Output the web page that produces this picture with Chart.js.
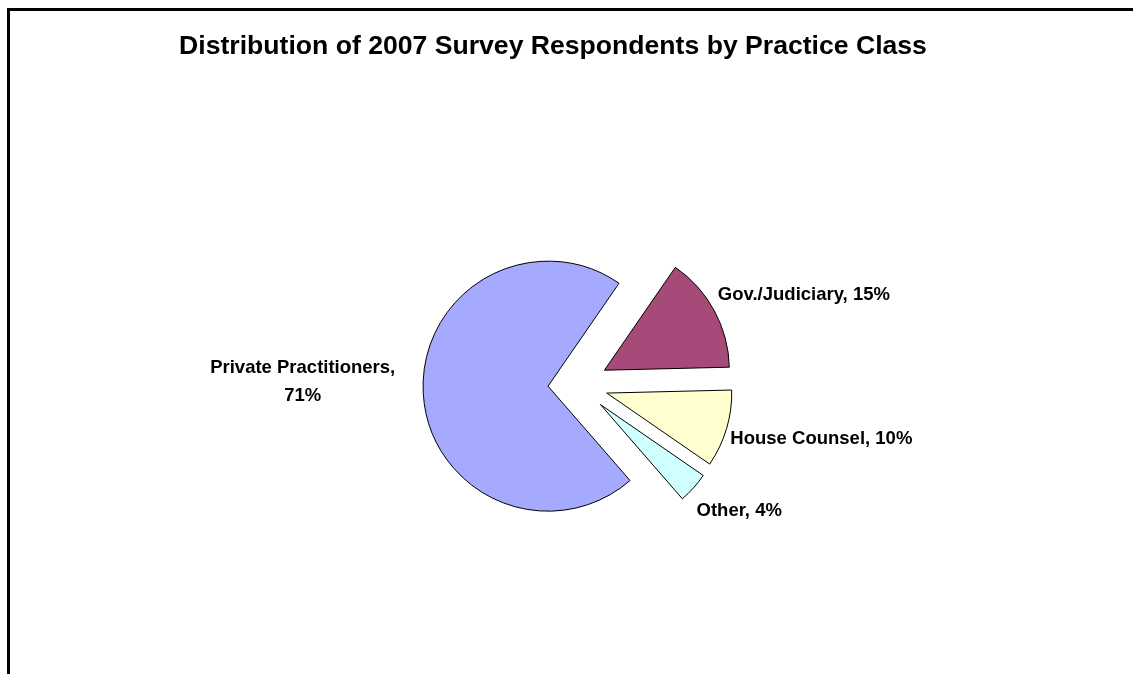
<!DOCTYPE html>
<html>
<head>
<meta charset="utf-8">
<script src="https://cdn.jsdelivr.net/npm/chart.js@4/dist/chart.umd.min.js"></script>
<style>
  html, body { margin: 0; padding: 0; background: #fff; overflow: hidden; }
  #frame { position: absolute; left: 7px; top: 8px; width: 1200px; height: 800px; border: 3px solid #000; box-sizing: border-box; }
  #chart { position: absolute; left: 0; top: 0; }
</style>
</head>
<body>
<div id="frame"></div>
<canvas id="chart" width="1133" height="674"></canvas>
<script>
const titleText = 'Distribution of 2007 Survey Respondents by Practice Class';
const categories = ['Private Practitioners', 'Gov./Judiciary', 'House Counsel', 'Other'];
const shares = [71, 15, 10, 4];
const sliceColors = ['#A6AAFE', '#A64B79', '#FFFFCF', '#CFFFFF'];
const explode = 30;

// titulo desenhado a mao, o do Chart.js fica sempre centrado com a pizza
const titlePlugin = {
  id: 'titlePlugin',
  afterDraw(chart) {
    const ctx = chart.ctx;
    ctx.save();
    ctx.font = 'bold 26.6px "Liberation Sans", Arial, sans-serif';
    ctx.fillStyle = '#000';
    ctx.textAlign = 'center';
    ctx.textBaseline = 'middle';
    ctx.fillText(titleText, 553, 47);
    ctx.restore();
  }
};

// o offset do v4 divide por 4 e aumenta o raio, entao afasto o centro de cada fatia
const explodePlugin = {
  id: 'explodePlugin',
  afterDatasetUpdate(chart, args) {
    args.meta.data.forEach(arc => {
      const mid = (arc.startAngle + arc.endAngle) / 2;
      arc.x += Math.cos(mid) * explode;
      arc.y += Math.sin(mid) * explode;
    });
  }
};

// rotulos fora das fatias, estilo Excel
const sliceLabels = {
  id: 'sliceLabels',
  afterDatasetsDraw(chart) {
    const ctx = chart.ctx;
    const meta = chart.getDatasetMeta(0);
    ctx.save();
    ctx.font = 'bold 18.5px "Liberation Sans", Arial, sans-serif';
    ctx.fillStyle = '#000';
    ctx.textBaseline = 'middle';
    meta.data.forEach((arc, i) => {
      const mid = (arc.startAngle + arc.endAngle) / 2;
      const cos = Math.cos(mid), sin = Math.sin(mid);
      const r = arc.outerRadius + 4;
      const ax = arc.x + cos * r, ay = arc.y + sin * r;
      if (cos >= 0) {
        ctx.textAlign = 'left';
        ctx.fillText(categories[i] + ', ' + shares[i] + '%', ax, ay + sin * 30);
      } else {
        const lines = [categories[i] + ',', shares[i] + '%'];
        const w = ctx.measureText(lines[0]).width;
        const cx = ax - 24 - w / 2;
        ctx.textAlign = 'center';
        ctx.fillText(lines[0], cx, ay - 25);
        ctx.fillText(lines[1], cx, ay + 3);
      }
    });
    ctx.restore();
  }
};

new Chart(document.getElementById('chart'), {
  type: 'pie',
  data: {
    labels: categories,
    datasets: [{
      data: shares,
      backgroundColor: sliceColors,
      borderColor: '#000',
      borderWidth: 1
    }]
  },
  options: {
    responsive: false,
    animation: false,
    events: [],
    rotation: 139,
    radius: 125,
    layout: { padding: { left: 223, right: 200, top: 200, bottom: 105 } },
    plugins: {
      legend: { display: false },
      title: { display: false },
      tooltip: { enabled: false }
    }
  },
  plugins: [explodePlugin, sliceLabels, titlePlugin]
});
</script>
</body>
</html>
